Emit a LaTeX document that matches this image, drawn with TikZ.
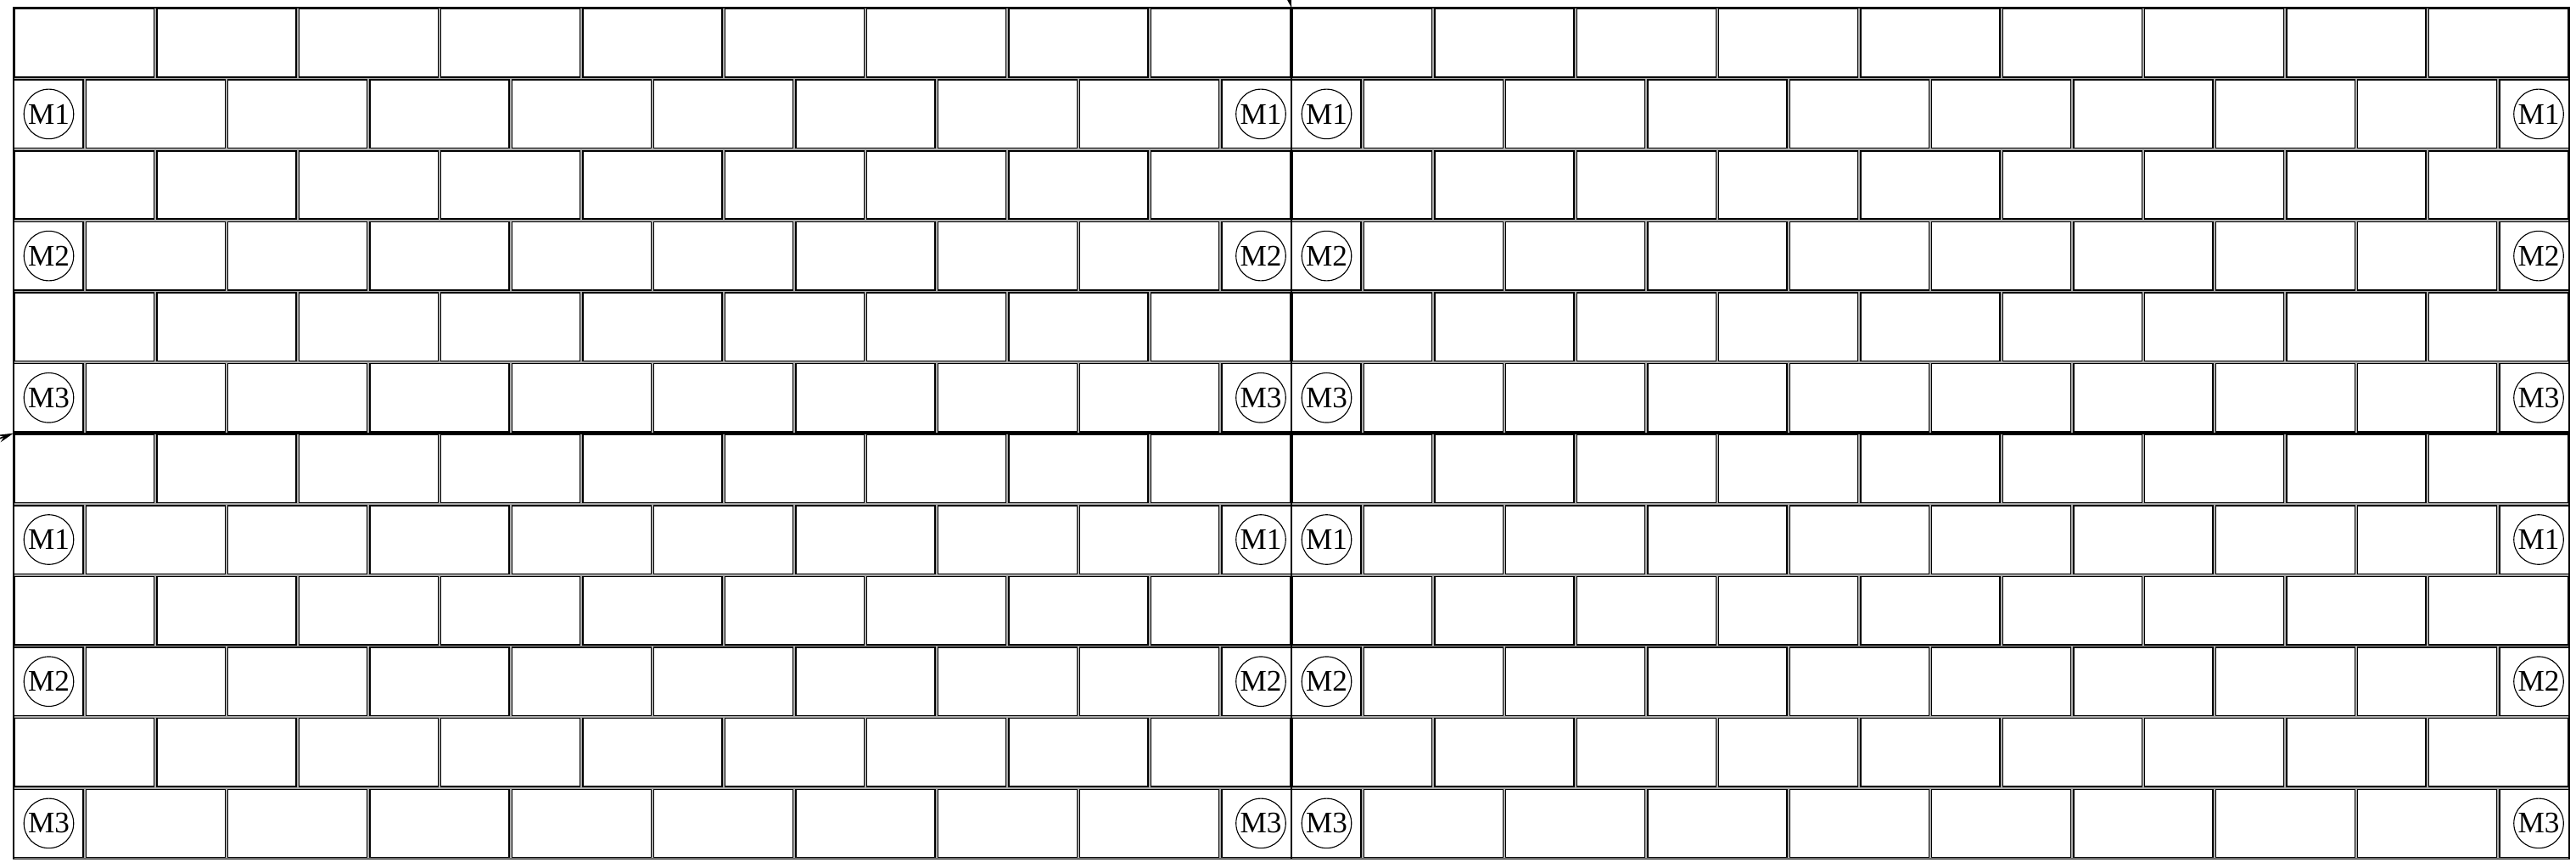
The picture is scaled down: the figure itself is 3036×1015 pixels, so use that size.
\documentclass[tikz,border=0pt]{standalone}
\usepackage{fontspec}
\setmainfont{Liberation Serif}
\usetikzlibrary{arrows.meta}
\begin{document}
\begin{tikzpicture}[x=0.01cm,y=-0.01cm,
  brick/.style={draw=black, fill=white, line width=0.4pt},
  mortar/.style={fill=gray!65},
  wallline/.style={draw=black, line width=0.4pt},
  mlabel/.style={circle, draw=black, line width=0.32pt, minimum size=0.585cm, inner sep=0pt, font=\fontsize{10}{11}\selectfont},
  axisline/.style={draw=black, line width=0.55pt},
  axistip/.style={draw=black, line width=0.45pt, -{Stealth[length=0.18cm, width=0.09cm]}}]
\useasboundingbox (0,0) rectangle (3036,1015);
\def\W{1506}
\def\H{83.6}
\def\B{167.333}
\def\HB{83.667}
\def\g{1.6}
% mortar and outer wall line
\fill[mortar] (16,9) rectangle (3028,1012.2);
\draw[wallline] (16,9) rectangle (3028,1012.2);
\foreach \px in {16,1522}{
  \foreach \py in {9,510.6}{
    \foreach \r in {0,...,5}{
      \pgfmathsetmacro\yt{\py+\r*\H+\g}
      \pgfmathsetmacro\yb{\py+(\r+1)*\H-\g}
      \pgfmathsetmacro\ym{\py+(\r+0.5)*\H}
      \ifodd\r
        \pgfmathtruncatemacro\n{(\r+1)/2}
        \draw[brick] (\px,\yt) rectangle ({\px+\HB-\g},\yb);
        \foreach \k in {0,...,7}{
          \draw[brick] ({\px+\HB+\k*\B+\g},\yt) rectangle ({\px+\HB+(\k+1)*\B-\g},\yb);
        }
        \draw[brick] ({\px+\W-\HB+\g},\yt) rectangle ({\px+\W},\yb);
        \node[mlabel] (ml-\px-\r-\n) at ({\px+41.5},\ym) {M\n};
        \node[mlabel] (mr-\px-\r-\n) at ({\px+\W-36},\ym) {M\n};
      \else
        \foreach \k in {0,...,8}{
          \draw[brick] ({\px+\k*\B+\g},\yt) rectangle ({\px+(\k+1)*\B-\g},\yb);
        }
      \fi
    }
  }
}
% axis lines
\coordinate (vtop) at (1522,9);
\coordinate (vbot) at (1522,1012.2);
\coordinate (hleft) at (16,510.6);
\coordinate (hright) at (3028,510.6);
\draw[axisline] (vtop) -- (vbot);
\draw[axisline] (hleft) -- (hright);
% arrow tips entering from outside
\coordinate (vfrom) at (1512,-30);
\coordinate (hfrom) at (-30,528);
\draw[axistip] (vfrom) -- (vtop);
\draw[axistip] (hfrom) -- (hleft);
\end{tikzpicture}
\end{document}
